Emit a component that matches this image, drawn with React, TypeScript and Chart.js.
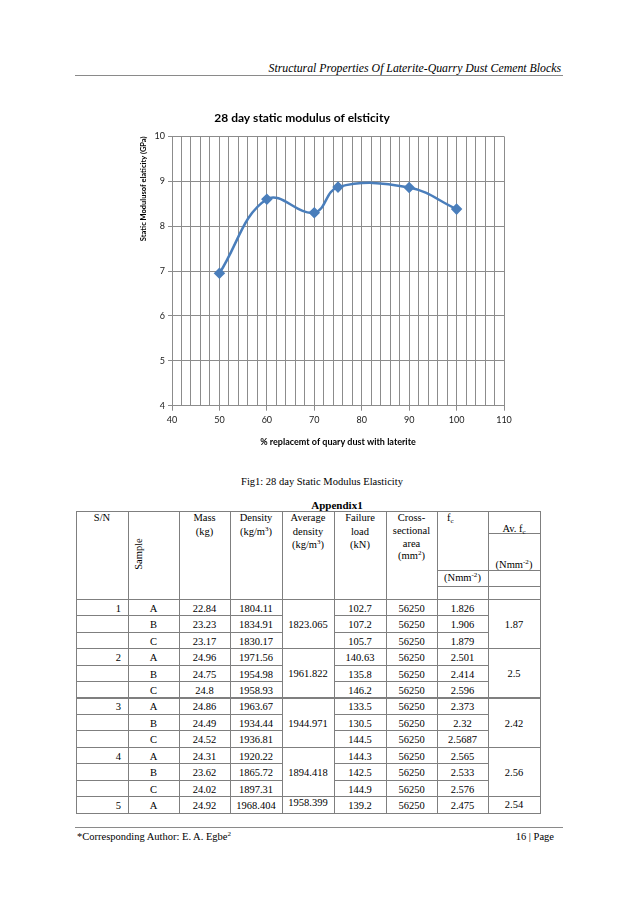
import React, { useEffect, useRef } from "react";
import { Chart, registerables } from "chart.js";

Chart.register(...registerables);

// ---- chart data ----
const replacement = [50, 60, 70, 75, 90, 100];
const modulus = [6.95, 8.6, 8.3, 8.87, 8.86, 8.38];
const chartTitle = "28 day static modulus of elsticity";
const xTitle = "% replacemt of quary dust with laterite";
const yTitle = "Static Modulusof elaticity (GPa)";

// ---- table data ----
const sn = ["1", "", "", "2", "", "", "3", "", "", "4", "", "", "5"];
const samples = ["A", "B", "C", "A", "B", "C", "A", "B", "C", "A", "B", "C", "A"];
const mass = ["22.84", "23.23", "23.17", "24.96", "24.75", "24.8", "24.86", "24.49", "24.52", "24.31", "23.62", "24.02", "24.92"];
const density = ["1804.11", "1834.91", "1830.17", "1971.56", "1954.98", "1958.93", "1963.67", "1934.44", "1936.81", "1920.22", "1865.72", "1897.31", "1968.404"];
const failureLoad = ["102.7", "107.2", "105.7", "140.63", "135.8", "146.2", "133.5", "130.5", "144.5", "144.3", "142.5", "144.9", "139.2"];
const area = ["56250", "56250", "56250", "56250", "56250", "56250", "56250", "56250", "56250", "56250", "56250", "56250", "56250"];
const fc = ["1.826", "1.906", "1.879", "2.501", "2.414", "2.596", "2.373", "2.32", "2.5687", "2.565", "2.533", "2.576", "2.475"];
const avgDensity = ["1823.065", "1961.822", "1944.971", "1894.418", "1958.399"];
const avFc = ["1.87", "2.5", "2.42", "2.56", "2.54"];
const groupSizes = [3, 3, 3, 3, 1];

const GRID = "#8c8c8c";
const LINE = "#4A7EBB";
const SERIF = "'Liberation Serif', 'Times New Roman', serif";
const CAL = "Lato, 'Open Sans', sans-serif";

function ChartBox() {
  const ref = useRef<HTMLCanvasElement | null>(null);
  useEffect(() => {
    if (!ref.current) return;
    const chart = new Chart(ref.current, {
      type: "line",
      data: {
        datasets: [
          {
            data: replacement.map((x, i) => ({ x, y: modulus[i] })),
            borderColor: LINE,
            backgroundColor: LINE,
            borderWidth: 2.5,
            tension: 0.4,
            pointStyle: "rectRot",
            pointRadius: 4,
            pointHoverRadius: 4,
            pointBackgroundColor: LINE,
            pointBorderColor: LINE,
            fill: false,
          },
        ],
      },
      options: {
        animation: false,
        responsive: true,
        maintainAspectRatio: false,
        layout: { padding: { left: 0, right: 26, top: 0, bottom: 0 } },
        plugins: {
          legend: { display: false },
          tooltip: { enabled: false },
          title: {
            display: true,
            text: chartTitle,
            color: "#000",
            font: { family: CAL, size: 12, weight: "bold" },
            padding: { top: 11, bottom: 11 },
          },
        },
        scales: {
          x: {
            type: "linear",
            min: 40,
            max: 110,
            afterFit: (s: any) => {
              s.height = 54.3;
            },
            ticks: {
              stepSize: 2,
              autoSkip: false,
              maxRotation: 0,
              color: "#1a1a1a",
              font: { family: CAL, size: 9 },
              padding: 4,
              callback: (v: any) => (Number(v) % 10 === 0 ? String(v) : ""),
            },
            grid: {
              color: GRID,
              lineWidth: 1,
              tickLength: 5,
              tickColor: (ctx: any) =>
                ctx.tick && Number(ctx.tick.value) % 10 === 0 ? GRID : "rgba(0,0,0,0)",
            },
            border: { display: true, color: GRID, width: 1 },
            title: {
              display: true,
              text: xTitle,
              color: "#000",
              font: { family: CAL, size: 9, weight: "bold" },
              padding: { top: 0, bottom: 13 },
            },
          },
          y: {
            min: 4,
            max: 10,
            afterFit: (s: any) => {
              s.width = 72;
            },
            ticks: {
              stepSize: 1,
              color: "#1a1a1a",
              font: { family: CAL, size: 9 },
              padding: 3,
            },
            grid: { color: GRID, lineWidth: 1, tickLength: 4, tickColor: GRID },
            border: { display: true, color: GRID, width: 1 },
            title: {
              display: true,
              text: yTitle,
              align: "end",
              color: "#000",
              font: { family: CAL, size: 7.5, weight: "bold" },
              padding: { top: 39.5, bottom: 0 },
            },
          },
        },
      },
    } as any);
    return () => chart.destroy();
  }, []);
  return (
    <div style={{ position: "absolute", left: 100, top: 100, width: 430, height: 360 }}>
      <canvas ref={ref} />
    </div>
  );
}

const colX = [76, 128, 179, 230, 282, 334, 386, 437, 488, 540];
const TABLE_TOP = 511.7;
const HEAD_BOTTOM = 599.3;
const ROW_H = 16.45;
const TBL_LINE = "#7f7f7f";

function HLine({ x1, x2, y, w = 1 }: { x1: number; x2: number; y: number; w?: number }) {
  return (
    <div
      style={{
        position: "absolute",
        left: x1,
        top: y - w / 2,
        width: x2 - x1 + 1,
        height: w,
        background: TBL_LINE,
      }}
    />
  );
}
function VLine({ x, y1, y2 }: { x: number; y1: number; y2: number }) {
  return (
    <div
      style={{
        position: "absolute",
        left: x - 0.5,
        top: y1,
        width: 1,
        height: y2 - y1,
        background: TBL_LINE,
      }}
    />
  );
}

function Txt({
  x1,
  x2,
  cy,
  children,
  align = "center",
  pad = 0,
  bold = false,
  size = 10.5,
}: {
  x1: number;
  x2: number;
  cy: number;
  children: React.ReactNode;
  align?: "center" | "left" | "right";
  pad?: number;
  bold?: boolean;
  size?: number;
}) {
  return (
    <div
      style={{
        position: "absolute",
        left: x1,
        width: x2 - x1,
        top: cy - 8,
        height: 16,
        lineHeight: "16px",
        textAlign: align,
        fontFamily: SERIF,
        fontSize: size,
        fontWeight: bold ? "bold" : "normal",
        paddingLeft: align === "left" ? pad : 0,
        paddingRight: align === "right" ? pad : 0,
        boxSizing: "border-box",
        whiteSpace: "nowrap",
        color: "#000",
      }}
    >
      {children}
    </div>
  );
}

const supStyle: React.CSSProperties = { fontSize: 7, verticalAlign: "4px", lineHeight: 0 };
const subStyle: React.CSSProperties = { fontSize: 7, verticalAlign: "-2px", lineHeight: 0 };

function DataTable() {
  const nRows = samples.length;
  const rowTop = (i: number) => HEAD_BOTTOM + ROW_H * i;
  const tableBottom = rowTop(nRows);
  const els: React.ReactNode[] = [];
  let k = 0;
  colX.forEach((x) => els.push(<VLine key={k++} x={x} y1={TABLE_TOP} y2={tableBottom} />));
  els.push(<HLine key={k++} x1={colX[0]} x2={colX[9]} y={TABLE_TOP} />);
  els.push(<HLine key={k++} x1={colX[0]} x2={colX[9]} y={HEAD_BOTTOM} />);
  els.push(<HLine key={k++} x1={colX[8]} x2={colX[9]} y={533.3} />);
  els.push(<HLine key={k++} x1={colX[7]} x2={colX[9]} y={570} />);
  els.push(<HLine key={k++} x1={colX[7]} x2={colX[9]} y={586.7} />);

  let start = 0;
  groupSizes.forEach((g, gi) => {
    for (let r = 1; r < g; r++) {
      const y = rowTop(start + r);
      els.push(<HLine key={k++} x1={colX[0]} x2={colX[4]} y={y} />);
      els.push(<HLine key={k++} x1={colX[5]} x2={colX[8]} y={y} />);
    }
    const yEnd = rowTop(start + g);
    els.push(<HLine key={k++} x1={colX[0]} x2={colX[9]} y={yEnd} w={gi === groupSizes.length - 1 ? 1 : 1.6} />);
    const cy = (rowTop(start) + yEnd) / 2 + 1;
    const off = g === 1 ? -2.5 : 0;
    els.push(
      <Txt key={k++} x1={colX[4]} x2={colX[5]} cy={cy + off}>
        {avgDensity[gi]}
      </Txt>
    );
    els.push(
      <Txt key={k++} x1={colX[8]} x2={colX[9]} cy={cy + off / 2}>
        {avFc[gi]}
      </Txt>
    );
    start += g;
  });

  for (let i = 0; i < nRows; i++) {
    const cy = rowTop(i) + ROW_H / 2 + 1.2;
    els.push(
      <Txt key={k++} x1={colX[0]} x2={colX[1]} cy={cy} align="right" pad={7}>
        {sn[i]}
      </Txt>
    );
    const cols = [samples[i], mass[i], density[i], null, failureLoad[i], area[i], fc[i]];
    cols.forEach((v, j) => {
      if (v === null) return;
      const ci = j + 1;
      els.push(
        <Txt key={k++} x1={colX[ci]} x2={colX[ci + 1]} cy={cy}>
          {v}
        </Txt>
      );
    });
  }

  const L1 = 518;
  const LH = 13.5;
  els.push(<Txt key={k++} x1={colX[0]} x2={colX[1]} cy={L1}>S/N</Txt>);
  els.push(
    <div
      key={k++}
      style={{
        position: "absolute",
        left: 139 - 30,
        top: 554 - 8,
        width: 60,
        height: 16,
        lineHeight: "16px",
        textAlign: "center",
        fontFamily: SERIF,
        fontSize: 10.5,
        transform: "rotate(-90deg)",
        color: "#000",
      }}
    >
      Sample
    </div>
  );
  els.push(<Txt key={k++} x1={colX[2]} x2={colX[3]} cy={L1}>Mass</Txt>);
  els.push(<Txt key={k++} x1={colX[2]} x2={colX[3]} cy={L1 + LH}>(kg)</Txt>);
  els.push(<Txt key={k++} x1={colX[3]} x2={colX[4]} cy={L1}>Density</Txt>);
  els.push(
    <Txt key={k++} x1={colX[3]} x2={colX[4]} cy={L1 + LH}>
      (kg/m<span style={supStyle}>3</span>)
    </Txt>
  );
  els.push(<Txt key={k++} x1={colX[4]} x2={colX[5]} cy={L1}>Average</Txt>);
  els.push(<Txt key={k++} x1={colX[4]} x2={colX[5]} cy={L1 + LH}>density</Txt>);
  els.push(
    <Txt key={k++} x1={colX[4]} x2={colX[5]} cy={L1 + 2 * LH}>
      (kg/m<span style={supStyle}>3</span>)
    </Txt>
  );
  els.push(<Txt key={k++} x1={colX[5]} x2={colX[6]} cy={L1}>Failure</Txt>);
  els.push(<Txt key={k++} x1={colX[5]} x2={colX[6]} cy={L1 + LH}>load</Txt>);
  els.push(<Txt key={k++} x1={colX[5]} x2={colX[6]} cy={L1 + 2 * LH}>(kN)</Txt>);
  els.push(<Txt key={k++} x1={colX[6]} x2={colX[7]} cy={L1}>Cross-</Txt>);
  els.push(<Txt key={k++} x1={colX[6]} x2={colX[7]} cy={L1 + 13}>sectional</Txt>);
  els.push(<Txt key={k++} x1={colX[6]} x2={colX[7]} cy={L1 + 26}>area</Txt>);
  els.push(
    <Txt key={k++} x1={colX[6]} x2={colX[7]} cy={L1 + 38}>
      (mm<span style={supStyle}>2</span>)
    </Txt>
  );
  els.push(
    <Txt key={k++} x1={colX[7]} x2={colX[8]} cy={L1} align="left" pad={10}>
      f<span style={subStyle}>c</span>
    </Txt>
  );
  els.push(
    <Txt key={k++} x1={colX[7]} x2={colX[8]} cy={577.5}>
      (Nmm<span style={supStyle}>-2</span>)
    </Txt>
  );
  els.push(
    <Txt key={k++} x1={colX[8]} x2={colX[9]} cy={528.5}>
      Av. f<span style={subStyle}>c</span>
    </Txt>
  );
  els.push(
    <Txt key={k++} x1={colX[8]} x2={colX[9]} cy={564.5}>
      (Nmm<span style={supStyle}>-2</span>)
    </Txt>
  );
  return <>{els}</>;
}

export default function App() {
  return (
    <div
      style={{
        position: "absolute",
        left: 0,
        top: 0,
        width: 638,
        height: 903,
        background: "#fff",
        overflow: "hidden",
      }}
    >
      {/* running header */}
      <div
        style={{
          position: "absolute",
          left: 200,
          width: 361,
          top: 59.5,
          height: 17,
          lineHeight: "17px",
          textAlign: "right",
          fontFamily: SERIF,
          fontStyle: "italic",
          fontSize: 11.8,
          color: "#000",
          whiteSpace: "nowrap",
        }}
      >
        Structural Properties Of Laterite-Quarry Dust Cement Blocks
      </div>
      <div style={{ position: "absolute", left: 75, top: 75, width: 488, height: 1, background: "#8a8a8a" }} />

      <ChartBox />

      <Txt x1={172} x2={472} cy={482}>
        Fig1: 28 day Static Modulus Elasticity
      </Txt>
      <Txt x1={237} x2={437} cy={504.5} bold size={11}>
        Appendix1
      </Txt>

      <DataTable />

      {/* footer */}
      <div style={{ position: "absolute", left: 75, top: 827, width: 488, height: 1, background: "#8a8a8a" }} />
      <div
        style={{
          position: "absolute",
          left: 77,
          top: 827.5,
          height: 17,
          lineHeight: "17px",
          fontFamily: SERIF,
          fontSize: 10.5,
          color: "#000",
          whiteSpace: "nowrap",
        }}
      >
        *Corresponding Author: E. A. Egbe<span style={supStyle}>2</span>
      </div>
      <div
        style={{
          position: "absolute",
          left: 454,
          width: 100,
          top: 827.5,
          height: 17,
          lineHeight: "17px",
          textAlign: "right",
          fontFamily: SERIF,
          fontSize: 10.5,
          color: "#000",
          whiteSpace: "nowrap",
        }}
      >
        16 | Page
      </div>
    </div>
  );
}
